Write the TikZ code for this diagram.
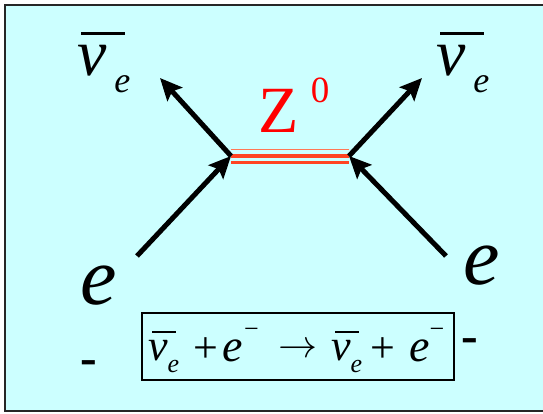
\documentclass[tikz,border=0pt]{standalone}
\usepackage{fontspec}
\setmainfont{Liberation Serif}
\newfontfamily\serfont{Liberation Serif}
\usetikzlibrary{arrows.meta}
\definecolor{panel}{HTML}{CCFFFF}
\definecolor{zmid}{HTML}{FF4422}
\definecolor{zpale}{HTML}{FF7755}
\newcommand{\fsz}[1]{\serfont\fontsize{#1}{#1}\selectfont}
% nu-bar with subscript e: nu size, e size, gap, drop, bar raise, bar length
\newcommand{\nuebar}[6]{%
  \rlap{\hspace{4pt}\raisebox{#5}{\rule{#6}{\dimexpr #1/22\relax}}}%
  {\fsz{#1}\itshape ν}\hspace{#3}\raisebox{-#4}{\fsz{#2}\itshape e}}

\begin{document}
\begin{tikzpicture}[x=1pt,y=-1pt,
  every node/.style={inner sep=0pt,outer sep=0pt},
  lep/.style={line width=5pt,-{Stealth[length=22pt,width=20pt,inset=4pt]}},
  zl/.style={line width=#1}]
 \useasboundingbox (0,0) rectangle (543,413);
 \fill[panel] (5,5) rectangle (543,411);
 \draw[line width=2pt,black!85] (543,5) -- (5,5) -- (5,411) -- (543,411);
 % vertices and free ends
 \coordinate (vL) at (231,156);
 \coordinate (vR) at (349,156);
 \coordinate (inL) at (137,256);
 \coordinate (inR) at (446,256);
 \coordinate (outL) at (160,78);
 \coordinate (outR) at (422,78);
 % Z0 propagator
 \draw[zl=1.6pt,zpale] ([yshift=6.7pt]vL) -- ([yshift=6.7pt]vR);
 \draw[zl=4.5pt,zmid] (vL) -- (vR);
 \draw[zl=2.6pt,zmid] ([yshift=-6.7pt]vL) -- ([yshift=-6.7pt]vR);
 \node[text=red] (Z) at (278.5,111) {\fsz{66pt}Z};
 \node[text=red] (Zc) at (320,90.5) {\fsz{37pt}0};
 % fermion lines
 \draw[lep] (inL) -- (vL);
 \draw[lep] (vL) -- (outL);
 \draw[lep] (inR) -- (vR);
 \draw[lep] (vR) -- (outR);
 % particle labels
 \node[anchor=base west] (nuL) at (77,75) {\nuebar{66pt}{36pt}{8pt}{17pt}{40pt}{44pt}};
 \node[anchor=base west] (nuR) at (436,75) {\nuebar{66pt}{36pt}{8pt}{17pt}{40pt}{44pt}};
 \node (eL) at (98.5,286) {\fsz{82pt}\itshape e};
 \node (eR) at (481.5,266) {\fsz{82pt}\itshape e};
 \node (mL) at (88.5,368) {\fsz{50pt}\bfseries -};
 \node (mR) at (470,346) {\fsz{50pt}\bfseries -};
 % reaction
 \node[draw,line width=1.6pt,minimum width=312pt,minimum height=67pt] (box) at (298,346.5) {};
 \node[anchor=base west] (nuA) at (148,360) {\nuebar{44pt}{26pt}{0pt}{12pt}{27pt}{24pt}};
 \node (pA) at (206,350) {\fsz{44pt}+};
 \node (eA) at (232.5,350.5) {\fsz{46pt}\itshape e};
 \node (sA) at (251.5,333) {\fsz{26pt}−};
 \node (ar) at (297.5,350) {\resizebox{39pt}{!}{$\rightarrow$}};
 \node[anchor=base west] (nuB) at (331,360) {\nuebar{44pt}{26pt}{0pt}{12pt}{27pt}{24pt}};
 \node (pB) at (382.5,350) {\fsz{44pt}+};
 \node (eB) at (419.5,350.5) {\fsz{46pt}\itshape e};
 \node (sB) at (437,333) {\fsz{26pt}−};
\end{tikzpicture}
\end{document}
